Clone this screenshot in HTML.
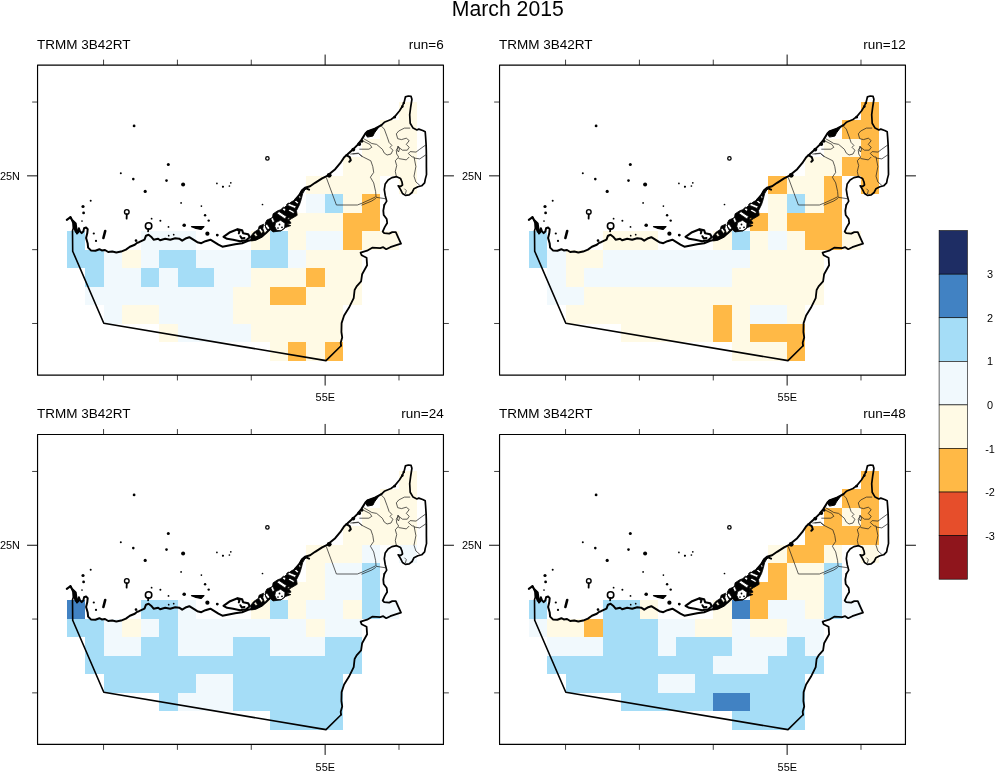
<!DOCTYPE html>
<html><head><meta charset="utf-8"><title>March 2015</title>
<style>html,body{margin:0;padding:0;background:#fff}svg{display:block;will-change:transform;opacity:0.999}text{font-family:"Liberation Sans",sans-serif;fill:#000}</style>
</head><body>
<svg width="995" height="771" viewBox="0 0 995 771">
<rect width="995" height="771" fill="#fff"/>
<defs>
<g id="map">
<path d="M66.8,219.9 L70.5,217.1 L72.1,219.9 L75.7,223.5 L76.5,229.1 L76.9,233.5 L78.1,232.3 L78.9,228.3 L80.1,231.5 L81.7,233.1 L83.3,231.5 L84.1,228.3 L86.1,227.5 L87.7,229.1 L87.3,233.1 L86.1,238.0 L87.7,243.6 L88.1,247.6 L90.9,250.4 L95.4,250.8 L99.4,249.2 L101.8,250.4 L105.0,250.0 L108.2,252.0 L112.3,251.6 L116.3,252.4 L121.1,251.6 L125.9,249.6 L129.9,246.8 L134.8,244.8 L137.2,242.8 L139.0,242.2 L144.5,239.7 L146.0,235.7 L148.6,234.7 L151.1,236.7 L153.6,239.7 L158.1,238.7 L160.1,240.2 L165.2,238.7 L170.2,239.7 L175.2,238.2 L179.2,238.7 L182.2,240.7 L186.3,238.2 L189.3,237.2 L193.3,239.7 L197.3,242.2 L201.3,243.2 L205.4,241.2 L210.4,239.7 L214.4,242.2 L218.4,244.7 L222.4,246.7 L227.5,245.7 L235.1,244.3 L242.1,243.3 L248.2,240.8 L255.2,239.3 L262.2,236.3 L266.0,233.0 L270.0,229.0" fill="none" stroke="#000" stroke-width="2.0" stroke-linejoin="round" stroke-linecap="round"/>
<path d="M295.0,200.0 L299.0,195.4 L302.0,190.3 L305.0,187.8 L310.1,186.3 L315.1,182.8 L322.1,178.3 L327.2,175.8 L335.2,169.2 L340.2,163.2 L344.2,157.2 L347.3,154.6 L352.3,150.1 L357.3,145.1 L361.3,140.1 L365.4,133.5 L367.4,131.5 L375.4,128.5 L381.4,125.2" fill="none" stroke="#000" stroke-width="2.0" stroke-linejoin="round" stroke-linecap="round"/>
<path d="M381.4,125.2 L384.3,122.3 L391.0,119.5 L394.8,116.6 L399.6,110.8 L402.5,106.0 L404.4,101.2 L405.4,96.9 L408.3,96.0 L411.1,96.4 L411.9,99.3 L410.7,107.0 L409.7,114.7 L410.2,123.3 L413.1,128.1 L416.9,130.0 L418.8,129.1 L422.7,130.5 L425.2,131.7 L425.6,136.7 L426.1,144.4 L426.3,150.2 L426.4,156.9 L426.4,166.6 L426.5,174.6 L425.3,179.1 L424.6,182.9 L421.7,185.8 L417.9,186.8 L414.0,188.7 L412.1,192.5 L409.2,194.9 L405.4,195.4 L402.5,193.5 L400.6,189.6 L398.2,185.8 L400.5,186.5 L402.5,185.0 L402.0,182.0 L400.6,178.6 L396.7,176.7 L391.9,177.6 L388.1,180.0 L385.2,183.9 L384.3,189.6 L385.2,195.4 L386.7,201.1 L384.3,205.0" fill="none" stroke="#000" stroke-width="1.7" stroke-linejoin="round" stroke-linecap="round"/>
<path d="M384.3,205.0 L383.3,210.7 L383.7,215.0 L386.7,219.0 L387.2,223.0 L384.7,227.1 L382.7,231.6 L384.2,233.1 L389.2,233.6 L392.3,232.1 L395.8,232.1 L397.8,236.6 L401.0,243.6 L396.3,245.2 L390.3,247.2 L386.2,249.2 L383.2,247.2 L380.2,248.2 L372.2,247.7 L367.1,250.7 L360.6,252.7 L361.6,255.2 L366.6,257.7 L367.1,265.3 L364.6,269.8 L362.1,274.3 L361.1,281.3 L356.6,286.4 L354.6,290.0 L353.7,298.2 L348.9,307.8 L344.1,315.5 L341.6,323.1 L341.4,332.0 L342.2,337.4 L340.7,342.8 L341.1,345.7" fill="none" stroke="#000" stroke-width="1.8" stroke-linejoin="round" stroke-linecap="round"/>
<path d="M341.1,345.7 L326.0,360.6 L103.8,323.3 L72.7,251.2 L72.5,230.7 L73.3,228.3 L72.9,222.7 L70.5,217.1" fill="none" stroke="#000" stroke-width="1.6" stroke-linejoin="round" stroke-linecap="round"/>
<path d="M70.5,217.1 L72.1,219.9 L75.7,223.5 L76.5,229.1 L76.9,233.5 L75,232.5 L73.3,228.3 L72.9,222.7 Z" fill="#000"/>
<path d="M250.6,236.4 L253.7,232.5 L258.3,229.4 L259.1,226.2 L263.6,224.2 L262.8,228.6 L264.6,233.6 L262.2,237.1 L256.0,240.2 L251.3,241.0Z M265.3,223.1 L266.9,220.0 L272.4,217.7 L273.1,213.8 L277.8,210.7 L282.5,209.1 L287.1,205.2 L291.0,202.1 L296.5,199.0 L299.6,195.1 L301.1,191.2 L304.2,188.1 L305.6,188.6 L302.7,193.6 L301.1,199.8 L299.6,204.5 L296.5,210.7 L297.2,215.3 L291.8,218.5 L287.1,220.0 L290.2,221.6 L291.0,223.2 L286.5,224.0 L290.8,225.6 L285.6,227.4 L280.9,230.9 L273.1,231.9 L270.0,229.4 L267.4,230.6 L265.6,227.5Z M275.6,222.6 L280.6,220.3 L285.0,223.2 L284.6,228.3 L281.0,230.8 L276.6,230.3 L274.8,226.4Z M276.9,213.5 L279.0,211.5 L286.6,216.6 L284.9,218.9Z M286.5,204.9 L288.2,203.0 L296.3,206.2 L295.1,208.5Z M288.3,210.8 L289.8,209.2 L294.6,211.9 L293.4,213.6Z M270.6,218.6 L273.0,217.4 L274.6,221.6 L272.6,222.8Z M264.7,225.4 L267.0,224.0 L270.6,229.0 L268.6,230.6Z M294.6,201.6 L296.0,200.2 L298.6,202.6 L297.4,204.1Z M258.6,229.6 L260.6,228.2 L263.2,232.0 L261.4,233.4Z M253.8,234.2 L255.6,232.8 L257.6,235.4 L255.8,236.8Z M281.6,208.8 L283.4,207.2 L286.0,209.6 L284.4,211.2Z M298.2,195.6 L299.6,194.4 L301.0,197.4 L299.6,198.6Z M287.0,219.0 L289.0,217.6 L290.4,219.6 L288.4,221.0Z" fill="#000" fill-rule="evenodd" stroke="#000" stroke-width="0.8" stroke-linejoin="round"/>
<path d="M223.5,236.8 L230.1,232.2 L237.6,229.2 L242.1,230.2 L243.1,233.2 L248.2,234.2 L249.7,237.3 L246.2,240.3 L240.1,241.3 L233.1,239.8 L227.1,238.8Z" fill="none" stroke="#000" stroke-width="2.1" stroke-linejoin="round"/>
<path d="M237.5,229.5 L239.5,231.5 L238.8,233.4 M240.4,236.2 L241.8,238.6 L244.5,238" fill="none" stroke="#000" stroke-width="2" stroke-linecap="round" stroke-linejoin="round"/>
<path d="M365.4,133.5 L367.4,131.0 L375.4,129.0 L378.4,127.6 L374.4,133.0 L372.9,136.1 L367.4,137.1Z" fill="#000" stroke="#000" stroke-width="1"/>
<path d="M346.3,155.2 L349.8,157.2 L350.8,160.2 L349.3,161.7 M303.5,189.8 L306.1,188.3 L309.1,189.6" fill="none" stroke="#000" stroke-width="2" stroke-linecap="round" stroke-linejoin="round"/>
<path d="M105.2,231 L103.4,238" stroke="#000" stroke-width="2.6" stroke-linecap="round" fill="none"/>
<path d="M191.5,226.6 L204,226.6 L201,229.5 L196,228.4 Z" fill="#000" stroke="#000" stroke-width="1.2" stroke-linejoin="round"/>
<path d="M126.8,214.2 L126.6,218.6 M148.4,229 L148.1,231.3" stroke="#000" stroke-width="1.8" stroke-linecap="round" fill="none"/>
<circle cx="134.1" cy="125.9" r="1.4"/>
<circle cx="168.3" cy="164.5" r="1.5"/>
<circle cx="120.8" cy="173.3" r="1.0"/>
<circle cx="133.3" cy="179.1" r="1.3"/>
<circle cx="166.5" cy="180.6" r="1.3"/>
<circle cx="183.1" cy="184.6" r="2.0"/>
<circle cx="145.2" cy="191.4" r="1.6"/>
<circle cx="216.9" cy="183.4" r="0.85"/>
<circle cx="222.9" cy="186.8" r="1.0"/>
<circle cx="229.4" cy="186" r="0.85"/>
<circle cx="230.8" cy="182.8" r="0.85"/>
<circle cx="90.7" cy="200.7" r="1.0"/>
<circle cx="83" cy="206.5" r="1.6"/>
<circle cx="83.6" cy="212.9" r="1.4"/>
<circle cx="181.1" cy="202.9" r="0.9"/>
<circle cx="201.4" cy="206.1" r="0.85"/>
<circle cx="262.5" cy="204.5" r="0.85"/>
<circle cx="205.1" cy="215.3" r="1.2"/>
<circle cx="208.7" cy="220.6" r="1.2"/>
<circle cx="151.6" cy="218.7" r="0.9"/>
<circle cx="160.4" cy="220.8" r="1.0"/>
<circle cx="82" cy="221" r="0.85"/>
<circle cx="184.2" cy="225.3" r="1.8"/>
<circle cx="168.5" cy="226.9" r="0.9"/>
<circle cx="93.8" cy="233.5" r="1.1"/>
<circle cx="96" cy="240.9" r="1.1"/>
<circle cx="207.4" cy="233.7" r="2.1"/>
<circle cx="217.4" cy="235.2" r="1.1"/>
<circle cx="217.2" cy="235.1" r="1.3"/>
<circle cx="168.7" cy="235.7" r="0.85"/>
<circle cx="173.7" cy="234.7" r="0.85"/>
<circle cx="329.2" cy="175.3" r="2.4"/>
<circle cx="353.3" cy="149.6" r="1.9"/>
<circle cx="359.3" cy="144.1" r="1.9"/>
<circle cx="361.8" cy="141.1" r="1.7"/>
<circle cx="136" cy="240.6" r="1.3"/>
<circle cx="223" cy="186.5" r="0.85"/>
<circle cx="394.6" cy="117.2" r="1.4"/>
<circle cx="279.5" cy="224.5" r="0.9"/>
<circle cx="282" cy="227.3" r="0.9"/>
<circle cx="278" cy="228" r="0.85"/>
<circle cx="402.3" cy="106.6" r="1.3"/>
<circle cx="403.8" cy="103" r="1.2"/>
<circle cx="267.4" cy="158.4" r="1.7" fill="none" stroke="#000" stroke-width="1.3"/>
<circle cx="126.8" cy="211.9" r="2.3" fill="none" stroke="#000" stroke-width="1.4"/>
<circle cx="148.6" cy="226" r="3.2" fill="none" stroke="#000" stroke-width="1.6"/>
<path d="M326.3,177.6 L336.4,205.0 L343.0,205.0 L357.4,205.0 L362.2,203.1 L370.8,199.2 L375.6,196.8 M361.5,205.2 L371.8,201.0 L375.9,198.3 M350.3,154.1 L358.3,153.1 L363.2,157.0 L370.8,160.8 L372.8,166.6 L373.7,172.4 L370.4,177.2 L373.7,182.9 L375.6,191.5 L376.1,197.3 L385.2,198.7 M381.4,126.1 L384.3,129.1 L387.1,136.7 L389.1,142.5 L391.9,145.4 L390.0,147.3 L392.9,150.2 L391.0,154.0 L387.1,155.0 L384.3,153.1 L382.3,149.2 L376.6,144.4 L371.8,143.5 L367.0,140.6 L363.6,138.7 M410.2,128.1 L404.4,128.1 L398.7,131.0 L396.3,133.9 L397.7,138.7 L401.5,139.6 L406.3,138.2 L409.2,140.6 L406.3,144.4 L409.2,147.3 L407.3,150.2 L402.5,150.2 L398.7,147.3 L396.3,150.2 L396.7,154.0 L398.7,157.0 L395.3,160.8 L396.7,165.6 L395.3,171.4 L396.3,176.2 M426.5,144.4 L419.8,149.2 L416.0,152.1 L410.2,151.6 L408.3,153.5 L412.1,156.9 L414.0,157.0 L415.9,166.6 L414.0,176.2 L415.9,182.0 L419.8,185.3 M362.2,140.6 L369.9,144.4 L371.8,147.3 L368.9,149.2 L359.3,149.2 M352.6,154.0 L358.4,153.5 L362.2,156.9 M398.5,158.5 L406.3,159.9 L409.2,157.0 M414.0,158.0 L419.8,158.9 L427.0,154.0 M404.4,188.7 L406.3,190.6 L405.4,194.0 M398.0,146.0 L399.5,149.0 L398.5,152.0 L397.0,149.5 L398.0,146.0" fill="none" stroke="#1a1a1a" stroke-width="0.7" stroke-linejoin="round"/>
</g>
<g id="frame">
<path d="M103.55,65.05 v-5.4 M103.55,375.05 v5.4 M177.41,65.05 v-5.4 M177.41,375.05 v5.4 M251.27,65.05 v-5.4 M251.27,375.05 v5.4 M398.99,65.05 v-5.4 M398.99,375.05 v5.4 M37.55,102.04 h-5.4 M443.45,102.04 h5.4 M37.55,249.66 h-5.4 M443.45,249.66 h5.4 M37.55,323.47 h-5.4 M443.45,323.47 h5.4" fill="none" stroke="#000" stroke-width="0.75"/>
<path d="M325.13,65.05 v-10.5 M325.13,375.05 v10.5 M37.55,175.85 h-10.5 M443.45,175.85 h10.5" fill="none" stroke="#000" stroke-width="0.95"/>
<rect x="37.55" y="65.05" width="405.9" height="310.0" fill="none" stroke="#000" stroke-width="1.15" stroke-linejoin="round"/>
<text x="37.05" y="49" font-size="13.5">TRMM 3B42RT</text>
<text x="19.949999999999996" y="179.8" font-size="10.9" text-anchor="end">25N</text>
<text x="325.3" y="401.2" font-size="10.9" text-anchor="middle">55E</text>
</g>
</defs>
<text x="507.8" y="16.1" font-size="21.2" text-anchor="middle">March 2015</text>
<g transform="translate(0,0)">
<rect x="399" y="102" width="18" height="18" fill="#fffae5"/>
<rect x="380" y="120" width="37" height="19" fill="#fffae5"/>
<rect x="362" y="139" width="55" height="18" fill="#fffae5"/>
<rect x="343" y="157" width="74" height="19" fill="#fffae5"/>
<rect x="306" y="176" width="74" height="18" fill="#fffae5"/>
<rect x="399" y="176" width="18" height="18" fill="#fffae5"/>
<rect x="306" y="194" width="19" height="19" fill="#f1f9fd"/>
<rect x="325" y="194" width="18" height="19" fill="#a5ddf7"/>
<rect x="343" y="194" width="19" height="19" fill="#fffae5"/>
<rect x="362" y="194" width="18" height="19" fill="#ffb946"/>
<rect x="288" y="213" width="55" height="18" fill="#fffae5"/>
<rect x="343" y="213" width="37" height="18" fill="#ffb946"/>
<rect x="67" y="231" width="18" height="19" fill="#a5ddf7"/>
<rect x="141" y="231" width="55" height="19" fill="#f1f9fd"/>
<rect x="251" y="231" width="19" height="19" fill="#fffae5"/>
<rect x="270" y="231" width="18" height="19" fill="#a5ddf7"/>
<rect x="288" y="231" width="18" height="19" fill="#fffae5"/>
<rect x="306" y="231" width="37" height="19" fill="#f1f9fd"/>
<rect x="343" y="231" width="19" height="19" fill="#ffb946"/>
<rect x="362" y="231" width="37" height="19" fill="#fffae5"/>
<rect x="67" y="250" width="37" height="18" fill="#a5ddf7"/>
<rect x="104" y="250" width="18" height="18" fill="#f1f9fd"/>
<rect x="122" y="250" width="19" height="18" fill="#fffae5"/>
<rect x="141" y="250" width="18" height="18" fill="#f1f9fd"/>
<rect x="159" y="250" width="37" height="18" fill="#a5ddf7"/>
<rect x="196" y="250" width="55" height="18" fill="#f1f9fd"/>
<rect x="251" y="250" width="37" height="18" fill="#a5ddf7"/>
<rect x="288" y="250" width="18" height="18" fill="#f1f9fd"/>
<rect x="306" y="250" width="56" height="18" fill="#fffae5"/>
<rect x="85" y="268" width="19" height="19" fill="#a5ddf7"/>
<rect x="104" y="268" width="37" height="19" fill="#f1f9fd"/>
<rect x="141" y="268" width="18" height="19" fill="#a5ddf7"/>
<rect x="159" y="268" width="19" height="19" fill="#f1f9fd"/>
<rect x="178" y="268" width="36" height="19" fill="#a5ddf7"/>
<rect x="214" y="268" width="37" height="19" fill="#f1f9fd"/>
<rect x="251" y="268" width="55" height="19" fill="#fffae5"/>
<rect x="306" y="268" width="19" height="19" fill="#ffb946"/>
<rect x="325" y="268" width="37" height="19" fill="#fffae5"/>
<rect x="85" y="287" width="148" height="18" fill="#f1f9fd"/>
<rect x="233" y="287" width="37" height="18" fill="#fffae5"/>
<rect x="270" y="287" width="36" height="18" fill="#ffb946"/>
<rect x="306" y="287" width="56" height="18" fill="#fffae5"/>
<rect x="104" y="305" width="18" height="19" fill="#f1f9fd"/>
<rect x="122" y="305" width="37" height="19" fill="#fffae5"/>
<rect x="159" y="305" width="74" height="19" fill="#f1f9fd"/>
<rect x="233" y="305" width="110" height="19" fill="#fffae5"/>
<rect x="159" y="324" width="19" height="18" fill="#fffae5"/>
<rect x="178" y="324" width="73" height="18" fill="#f1f9fd"/>
<rect x="251" y="324" width="92" height="18" fill="#fffae5"/>
<rect x="270" y="342" width="18" height="19" fill="#fffae5"/>
<rect x="288" y="342" width="18" height="19" fill="#ffb946"/>
<rect x="306" y="342" width="19" height="19" fill="#fffae5"/>
<rect x="325" y="342" width="18" height="19" fill="#ffb946"/>
<use href="#map"/>
</g>
<g transform="translate(0,0)">
<use href="#frame"/>
<text x="443.75" y="49" font-size="13.5" text-anchor="end">run=6</text>
</g>
<g transform="translate(462.0,0)">
<rect x="399" y="102" width="18" height="18" fill="#ffb946"/>
<rect x="380" y="120" width="37" height="19" fill="#ffb946"/>
<rect x="362" y="139" width="37" height="18" fill="#fffae5"/>
<rect x="399" y="139" width="18" height="18" fill="#ffb946"/>
<rect x="343" y="157" width="37" height="19" fill="#fffae5"/>
<rect x="380" y="157" width="37" height="19" fill="#ffb946"/>
<rect x="306" y="176" width="19" height="18" fill="#ffb946"/>
<rect x="325" y="176" width="37" height="18" fill="#fffae5"/>
<rect x="362" y="176" width="18" height="18" fill="#ffb946"/>
<rect x="399" y="176" width="18" height="18" fill="#ffb946"/>
<rect x="306" y="194" width="19" height="19" fill="#fffae5"/>
<rect x="325" y="194" width="18" height="19" fill="#a5ddf7"/>
<rect x="343" y="194" width="19" height="19" fill="#fffae5"/>
<rect x="362" y="194" width="18" height="19" fill="#ffb946"/>
<rect x="288" y="213" width="18" height="18" fill="#ffb946"/>
<rect x="306" y="213" width="19" height="18" fill="#fffae5"/>
<rect x="325" y="213" width="55" height="18" fill="#ffb946"/>
<rect x="67" y="231" width="18" height="19" fill="#a5ddf7"/>
<rect x="141" y="231" width="55" height="19" fill="#fffae5"/>
<rect x="251" y="231" width="19" height="19" fill="#fffae5"/>
<rect x="270" y="231" width="18" height="19" fill="#a5ddf7"/>
<rect x="288" y="231" width="18" height="19" fill="#fffae5"/>
<rect x="306" y="231" width="19" height="19" fill="#f1f9fd"/>
<rect x="325" y="231" width="18" height="19" fill="#fffae5"/>
<rect x="343" y="231" width="37" height="19" fill="#ffb946"/>
<rect x="380" y="231" width="19" height="19" fill="#fffae5"/>
<rect x="67" y="250" width="18" height="18" fill="#a5ddf7"/>
<rect x="85" y="250" width="19" height="18" fill="#f1f9fd"/>
<rect x="104" y="250" width="37" height="18" fill="#fffae5"/>
<rect x="141" y="250" width="147" height="18" fill="#f1f9fd"/>
<rect x="288" y="250" width="74" height="18" fill="#fffae5"/>
<rect x="85" y="268" width="19" height="19" fill="#f1f9fd"/>
<rect x="104" y="268" width="18" height="19" fill="#fffae5"/>
<rect x="122" y="268" width="148" height="19" fill="#f1f9fd"/>
<rect x="270" y="268" width="92" height="19" fill="#fffae5"/>
<rect x="85" y="287" width="37" height="18" fill="#f1f9fd"/>
<rect x="122" y="287" width="240" height="18" fill="#fffae5"/>
<rect x="104" y="305" width="147" height="19" fill="#fffae5"/>
<rect x="251" y="305" width="19" height="19" fill="#ffb946"/>
<rect x="270" y="305" width="18" height="19" fill="#fffae5"/>
<rect x="288" y="305" width="37" height="19" fill="#f1f9fd"/>
<rect x="325" y="305" width="18" height="19" fill="#fffae5"/>
<rect x="159" y="324" width="92" height="18" fill="#fffae5"/>
<rect x="251" y="324" width="19" height="18" fill="#ffb946"/>
<rect x="270" y="324" width="18" height="18" fill="#fffae5"/>
<rect x="288" y="324" width="55" height="18" fill="#ffb946"/>
<rect x="270" y="342" width="55" height="19" fill="#fffae5"/>
<rect x="325" y="342" width="18" height="19" fill="#ffb946"/>
<use href="#map"/>
</g>
<g transform="translate(462.0,0)">
<use href="#frame"/>
<text x="443.75" y="49" font-size="13.5" text-anchor="end">run=12</text>
</g>
<g transform="translate(0,369.0)">
<rect x="399" y="102" width="18" height="18" fill="#fffae5"/>
<rect x="380" y="120" width="37" height="19" fill="#fffae5"/>
<rect x="362" y="139" width="55" height="18" fill="#fffae5"/>
<rect x="343" y="157" width="74" height="19" fill="#fffae5"/>
<rect x="306" y="176" width="56" height="18" fill="#fffae5"/>
<rect x="362" y="176" width="18" height="18" fill="#f1f9fd"/>
<rect x="399" y="176" width="18" height="18" fill="#f1f9fd"/>
<rect x="306" y="194" width="19" height="19" fill="#fffae5"/>
<rect x="325" y="194" width="37" height="19" fill="#f1f9fd"/>
<rect x="362" y="194" width="18" height="19" fill="#a5ddf7"/>
<rect x="288" y="213" width="37" height="18" fill="#fffae5"/>
<rect x="325" y="213" width="37" height="18" fill="#f1f9fd"/>
<rect x="362" y="213" width="18" height="18" fill="#a5ddf7"/>
<rect x="67" y="231" width="18" height="19" fill="#4182c3"/>
<rect x="141" y="231" width="37" height="19" fill="#a5ddf7"/>
<rect x="178" y="231" width="18" height="19" fill="#f1f9fd"/>
<rect x="251" y="231" width="19" height="19" fill="#fffae5"/>
<rect x="270" y="231" width="18" height="19" fill="#a5ddf7"/>
<rect x="288" y="231" width="18" height="19" fill="#fffae5"/>
<rect x="306" y="231" width="37" height="19" fill="#f1f9fd"/>
<rect x="343" y="231" width="19" height="19" fill="#fffae5"/>
<rect x="362" y="231" width="18" height="19" fill="#a5ddf7"/>
<rect x="380" y="231" width="19" height="19" fill="#f1f9fd"/>
<rect x="67" y="250" width="37" height="18" fill="#a5ddf7"/>
<rect x="104" y="250" width="18" height="18" fill="#f1f9fd"/>
<rect x="122" y="250" width="19" height="18" fill="#fffae5"/>
<rect x="141" y="250" width="18" height="18" fill="#f1f9fd"/>
<rect x="159" y="250" width="19" height="18" fill="#a5ddf7"/>
<rect x="178" y="250" width="128" height="18" fill="#f1f9fd"/>
<rect x="306" y="250" width="19" height="18" fill="#fffae5"/>
<rect x="325" y="250" width="37" height="18" fill="#f1f9fd"/>
<rect x="85" y="268" width="19" height="19" fill="#a5ddf7"/>
<rect x="104" y="268" width="37" height="19" fill="#f1f9fd"/>
<rect x="141" y="268" width="37" height="19" fill="#a5ddf7"/>
<rect x="178" y="268" width="55" height="19" fill="#f1f9fd"/>
<rect x="233" y="268" width="37" height="19" fill="#a5ddf7"/>
<rect x="270" y="268" width="55" height="19" fill="#f1f9fd"/>
<rect x="325" y="268" width="37" height="19" fill="#a5ddf7"/>
<rect x="85" y="287" width="277" height="18" fill="#a5ddf7"/>
<rect x="104" y="305" width="92" height="19" fill="#a5ddf7"/>
<rect x="196" y="305" width="37" height="19" fill="#f1f9fd"/>
<rect x="233" y="305" width="110" height="19" fill="#a5ddf7"/>
<rect x="159" y="324" width="19" height="18" fill="#a5ddf7"/>
<rect x="178" y="324" width="55" height="18" fill="#f1f9fd"/>
<rect x="233" y="324" width="110" height="18" fill="#a5ddf7"/>
<rect x="270" y="342" width="73" height="19" fill="#a5ddf7"/>
<use href="#map"/>
</g>
<g transform="translate(0,369.4)">
<use href="#frame"/>
<text x="443.75" y="49" font-size="13.5" text-anchor="end">run=24</text>
</g>
<g transform="translate(462.0,369.0)">
<rect x="399" y="102" width="18" height="18" fill="#ffb946"/>
<rect x="380" y="120" width="37" height="19" fill="#ffb946"/>
<rect x="362" y="139" width="18" height="18" fill="#ffb946"/>
<rect x="380" y="139" width="19" height="18" fill="#fffae5"/>
<rect x="399" y="139" width="18" height="18" fill="#ffb946"/>
<rect x="343" y="157" width="74" height="19" fill="#ffb946"/>
<rect x="306" y="176" width="19" height="18" fill="#fffae5"/>
<rect x="325" y="176" width="37" height="18" fill="#ffb946"/>
<rect x="362" y="176" width="18" height="18" fill="#fffae5"/>
<rect x="399" y="176" width="18" height="18" fill="#fffae5"/>
<rect x="306" y="194" width="19" height="19" fill="#ffb946"/>
<rect x="325" y="194" width="37" height="19" fill="#fffae5"/>
<rect x="362" y="194" width="18" height="19" fill="#a5ddf7"/>
<rect x="288" y="213" width="37" height="18" fill="#ffb946"/>
<rect x="325" y="213" width="37" height="18" fill="#fffae5"/>
<rect x="362" y="213" width="18" height="18" fill="#a5ddf7"/>
<rect x="67" y="231" width="18" height="19" fill="#a5ddf7"/>
<rect x="141" y="231" width="37" height="19" fill="#a5ddf7"/>
<rect x="178" y="231" width="18" height="19" fill="#fffae5"/>
<rect x="251" y="231" width="19" height="19" fill="#fffae5"/>
<rect x="270" y="231" width="18" height="19" fill="#4182c3"/>
<rect x="288" y="231" width="18" height="19" fill="#ffb946"/>
<rect x="306" y="231" width="37" height="19" fill="#f1f9fd"/>
<rect x="343" y="231" width="19" height="19" fill="#fffae5"/>
<rect x="362" y="231" width="18" height="19" fill="#a5ddf7"/>
<rect x="380" y="231" width="19" height="19" fill="#f1f9fd"/>
<rect x="67" y="250" width="18" height="18" fill="#f1f9fd"/>
<rect x="85" y="250" width="37" height="18" fill="#fffae5"/>
<rect x="122" y="250" width="19" height="18" fill="#ffb946"/>
<rect x="141" y="250" width="55" height="18" fill="#a5ddf7"/>
<rect x="196" y="250" width="37" height="18" fill="#f1f9fd"/>
<rect x="233" y="250" width="37" height="18" fill="#fffae5"/>
<rect x="270" y="250" width="18" height="18" fill="#f1f9fd"/>
<rect x="288" y="250" width="37" height="18" fill="#fffae5"/>
<rect x="325" y="250" width="37" height="18" fill="#f1f9fd"/>
<rect x="85" y="268" width="56" height="19" fill="#f1f9fd"/>
<rect x="141" y="268" width="55" height="19" fill="#a5ddf7"/>
<rect x="196" y="268" width="18" height="19" fill="#f1f9fd"/>
<rect x="214" y="268" width="56" height="19" fill="#a5ddf7"/>
<rect x="270" y="268" width="55" height="19" fill="#f1f9fd"/>
<rect x="325" y="268" width="18" height="19" fill="#a5ddf7"/>
<rect x="343" y="268" width="19" height="19" fill="#f1f9fd"/>
<rect x="85" y="287" width="166" height="18" fill="#a5ddf7"/>
<rect x="251" y="287" width="55" height="18" fill="#f1f9fd"/>
<rect x="306" y="287" width="56" height="18" fill="#a5ddf7"/>
<rect x="104" y="305" width="92" height="19" fill="#a5ddf7"/>
<rect x="196" y="305" width="37" height="19" fill="#f1f9fd"/>
<rect x="233" y="305" width="110" height="19" fill="#a5ddf7"/>
<rect x="159" y="324" width="92" height="18" fill="#a5ddf7"/>
<rect x="251" y="324" width="37" height="18" fill="#4182c3"/>
<rect x="288" y="324" width="55" height="18" fill="#a5ddf7"/>
<rect x="270" y="342" width="73" height="19" fill="#a5ddf7"/>
<use href="#map"/>
</g>
<g transform="translate(462.0,369.4)">
<use href="#frame"/>
<text x="443.75" y="49" font-size="13.5" text-anchor="end">run=48</text>
</g>
<rect x="939.1" y="230.60" width="28.2" height="43.58" fill="#1e2d64" stroke="#000" stroke-width="0.6"/>
<rect x="939.1" y="274.18" width="28.2" height="43.58" fill="#4182c3" stroke="#000" stroke-width="0.6"/>
<rect x="939.1" y="317.75" width="28.2" height="43.58" fill="#a5ddf7" stroke="#000" stroke-width="0.6"/>
<rect x="939.1" y="361.33" width="28.2" height="43.58" fill="#f1f9fd" stroke="#000" stroke-width="0.6"/>
<rect x="939.1" y="404.90" width="28.2" height="43.58" fill="#fffae5" stroke="#000" stroke-width="0.6"/>
<rect x="939.1" y="448.48" width="28.2" height="43.58" fill="#ffb946" stroke="#000" stroke-width="0.6"/>
<rect x="939.1" y="492.05" width="28.2" height="43.58" fill="#e64e2b" stroke="#000" stroke-width="0.6"/>
<rect x="939.1" y="535.62" width="28.2" height="43.58" fill="#8f151c" stroke="#000" stroke-width="0.6"/>
<text x="990" y="278.2" font-size="10.9" text-anchor="middle">3</text>
<text x="990" y="321.8" font-size="10.9" text-anchor="middle">2</text>
<text x="990" y="365.3" font-size="10.9" text-anchor="middle">1</text>
<text x="990" y="408.9" font-size="10.9" text-anchor="middle">0</text>
<text x="990" y="452.5" font-size="10.9" text-anchor="middle">-1</text>
<text x="990" y="496.1" font-size="10.9" text-anchor="middle">-2</text>
<text x="990" y="539.6" font-size="10.9" text-anchor="middle">-3</text>
</svg>
</body></html>
